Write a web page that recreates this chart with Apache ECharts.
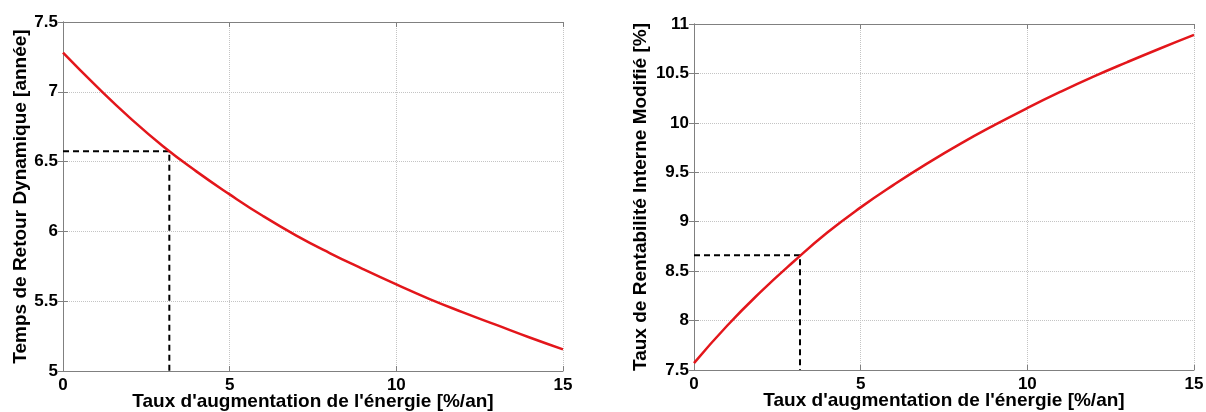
<!DOCTYPE html>
<html>
<head>
<meta charset="utf-8">
<script src="https://cdn.jsdelivr.net/npm/echarts@6/dist/echarts.min.js"></script>
<style>
html,body{margin:0;padding:0;background:#fff;}
#chart{width:1206px;height:412px;}
</style>
</head>
<body>
<div id="chart"></div>
<script>
// ---- data ----
const tauxAugmentation = [0,1,2,3,4,5,6,7,8,9,10,11,12,13,14,15];
const tempsRetour = [7.28,7.04,6.815,6.61,6.43,6.265,6.11,5.97,5.845,5.73,5.62,5.515,5.42,5.33,5.24,5.155];
const triModifie = [7.57,7.95,8.29,8.60,8.89,9.145,9.375,9.59,9.79,9.975,10.15,10.315,10.47,10.615,10.755,10.89];
const refLeft = [[0,6.575],[3.19,6.575],[3.19,5]];
const refRight = [[0,8.66],[3.18,8.66],[3.18,7.5]];
const xTitle = "Taux d'augmentation de l'énergie [%/an]";
const yTitleLeft = "Temps de Retour Dynamique [année]";
const yTitleRight = "Taux de Rentabilité Interne Modifié [%]";

const FONT = "'Liberation Sans', Arial, sans-serif";
const boxColor = '#808080';
const gridColor = '#c4c4c4';
const TICK_FS = 17;
const TITLE_FS = 19;

function pairs(xs, ys){ return xs.map((x,i)=>[x, ys[i]]); }

function mainX(gridIndex){
  return {
    type:'value', gridIndex, min:0, max:15, interval:5, position:'bottom',
    axisLine:{show:true, lineStyle:{color:boxColor, width:1}},
    axisTick:{show:true, inside:true, length:5, lineStyle:{color:boxColor}},
    axisLabel:{color:'#000', fontFamily:FONT, fontWeight:'bold', fontSize:TICK_FS, margin:6},
    splitLine:{show:true, lineStyle:{color:gridColor, type:'dotted', width:1}},
    name:xTitle, nameLocation:'middle', nameGap:21, nameMoveOverlap:false,
    nameTextStyle:{color:'#000', fontFamily:FONT, fontWeight:'bold', fontSize:TITLE_FS}
  };
}
function topX(gridIndex){
  return {
    type:'value', gridIndex, min:0, max:15, interval:5, position:'top',
    axisLine:{show:true, lineStyle:{color:boxColor, width:1}},
    axisTick:{show:true, inside:true, length:5, lineStyle:{color:boxColor}},
    axisLabel:{show:false}, splitLine:{show:false}
  };
}
function mainY(gridIndex, min, max, name, gap){
  return {
    type:'value', gridIndex, min, max, interval:0.5, position:'left',
    axisLine:{show:true, lineStyle:{color:boxColor, width:1}},
    axisTick:{show:true, inside:true, length:5, lineStyle:{color:boxColor}},
    axisLabel:{color:'#000', fontFamily:FONT, fontWeight:'bold', fontSize:TICK_FS, margin:5,
      formatter: v => String(+v.toFixed(1))},
    splitLine:{show:true, lineStyle:{color:gridColor, type:'dotted', width:1}},
    name, nameLocation:'middle', nameGap:gap, nameMoveOverlap:false,
    nameTextStyle:{color:'#000', fontFamily:FONT, fontWeight:'bold', fontSize:TITLE_FS}
  };
}
function rightY(gridIndex, min, max){
  return {
    type:'value', gridIndex, min, max, interval:0.5, position:'right',
    axisLine:{show:true, lineStyle:{color:boxColor, width:1}},
    axisTick:{show:true, inside:true, length:5, lineStyle:{color:boxColor}},
    axisLabel:{show:false}, splitLine:{show:false}
  };
}

const chart = echarts.init(document.getElementById('chart'), null, {renderer:'canvas'});
chart.setOption({
  backgroundColor:'#fff',
  animation:false,
  grid:[
    {left:63, right:643, top:22, bottom:41, containLabel:false, outerBoundsMode:'none'},
    {left:694, right:12, top:24, bottom:42, containLabel:false, outerBoundsMode:'none'}
  ],
  xAxis:[mainX(0), topX(0), mainX(1), topX(1)],
  yAxis:[mainY(0,5,7.5,yTitleLeft,33), rightY(0,5,7.5), mainY(1,7.5,11,yTitleRight,44), rightY(1,7.5,11)],
  series:[
    {type:'line', xAxisIndex:0, yAxisIndex:0, data:refLeft, symbol:'none',
     lineStyle:{color:'#000', width:2, type:[6,4]}, z:3},
    {type:'line', xAxisIndex:0, yAxisIndex:0, data:pairs(tauxAugmentation,tempsRetour), symbol:'none',
     smooth:0.5, lineStyle:{color:'#e3161b', width:2.5}, z:4},
    {type:'line', xAxisIndex:2, yAxisIndex:2, data:refRight, symbol:'none',
     lineStyle:{color:'#000', width:2, type:[6,4]}, z:3},
    {type:'line', xAxisIndex:2, yAxisIndex:2, data:pairs(tauxAugmentation,triModifie), symbol:'none',
     smooth:0.5, lineStyle:{color:'#e3161b', width:2.5}, z:4}
  ]
});
</script>
</body>
</html>
